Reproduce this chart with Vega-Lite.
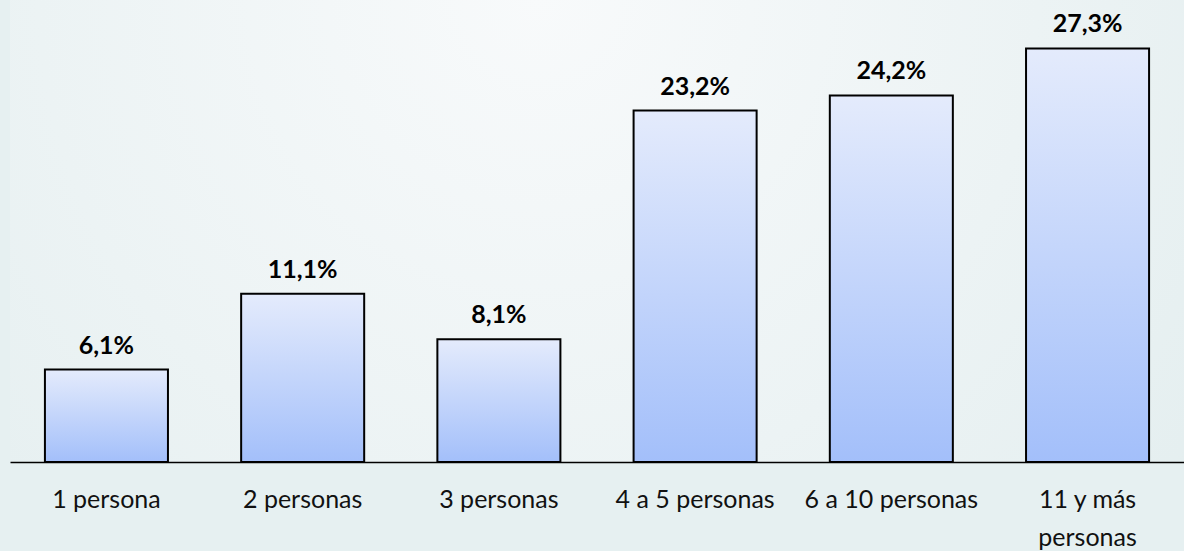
{
  "$schema": "https://vega.github.io/schema/vega-lite/v6.json",
  "width": 1174,
  "height": 462,
  "autosize": {"type": "none"},
  "padding": {"left": 10, "top": 0, "right": 0, "bottom": 89},
  "background": "#e6f0f1",
  "config": {
    "locale": {
      "number": {"decimal": ",", "thousands": ".", "grouping": [3], "currency": ["", " €"]}
    },
    "view": {
      "stroke": null,
      "fill": {
        "gradient": "radial",
        "x1": 0.45, "y1": 0.3, "r1": 0,
        "x2": 0.45, "y2": 0.3, "r2": 0.85,
        "stops": [
          {"offset": 0, "color": "#f8fafb"},
          {"offset": 1, "color": "#e0eced"}
        ]
      }
    }
  },
  "data": {
    "values": [
      {"categoria": "1  persona", "pct": 0.061},
      {"categoria": "2  personas", "pct": 0.111},
      {"categoria": "3 personas", "pct": 0.081},
      {"categoria": "4 a 5 personas", "pct": 0.232},
      {"categoria": "6 a 10 personas", "pct": 0.242},
      {"categoria": "11 y más personas", "pct": 0.273}
    ]
  },
  "encoding": {
    "x": {
      "field": "categoria",
      "type": "nominal",
      "sort": null,
      "scale": {"paddingInner": 0.373, "paddingOuter": 0.178},
      "axis": {
        "title": null,
        "labelAngle": 0,
        "ticks": false,
        "domainColor": "#000000",
        "domainWidth": 1.5,
        "labelFont": "Lato",
        "labelFontSize": 25,
        "labelColor": "#111111",
        "labelPadding": 25,
        "labelLineHeight": 38,
        "labelExpr": "datum.value == '11 y más personas' ? ['11 y más', 'personas'] : datum.value"
      }
    },
    "y": {
      "field": "pct",
      "type": "quantitative",
      "scale": {"domain": [0, 0.305], "nice": false},
      "axis": null
    }
  },
  "layer": [
    {
      "mark": {
        "type": "bar",
        "stroke": "#000000",
        "strokeWidth": 2,
        "fill": {
          "gradient": "linear",
          "x1": 0, "y1": 0, "x2": 0, "y2": 1,
          "stops": [
            {"offset": 0, "color": "#e4ebfc"},
            {"offset": 1, "color": "#a3bffa"}
          ]
        }
      }
    },
    {
      "mark": {
        "type": "text",
        "baseline": "bottom",
        "dy": -11,
        "font": "Lato",
        "fontSize": 25,
        "fontWeight": "bold",
        "color": "#000000"
      },
      "encoding": {
        "text": {"field": "pct", "type": "quantitative", "format": ".1%"}
      }
    }
  ]
}
